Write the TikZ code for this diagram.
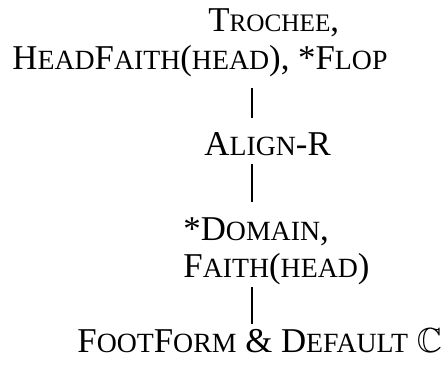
\documentclass[tikz,border=0pt]{standalone}
\usepackage{amssymb}
\usepackage{fontspec}
\setmainfont{Liberation Serif}
\usetikzlibrary{calc}
% faked small caps: full capital, then smaller capitals
\newcommand\fsc[2]{#1{\fontsize{13.9}{16}\selectfont #2}}
\newcommand\fscs[2]{#1{\fontsize{12.6}{15}\selectfont #2}}

\begin{document}
\begin{tikzpicture}[x=1pt, y=1pt,
  font=\fontsize{17.4}{20}\selectfont,
  cons/.style={inner sep=0pt, anchor=base west},
  link/.style={line width=0.75pt}]
\useasboundingbox (0,0) rectangle (222,182.5);
\coordinate (spine) at (126,0);
% ranking, highest first
\node[cons] (tro) at (104,166.5) {\fscs{T}{ROCHEE},};
\node[cons] (hf)  at (6,147.5)   {\fsc{H}{EAD}\fsc{F}{AITH}({\fontsize{13.9}{16}\selectfont HEAD}), *\fsc{F}{LOP}};
\node[cons] (al)  at (102,105)   {\fsc{A}{LIGN}-R};
\node[cons] (dom) at (91.5,62.5) {*\fsc{D}{OMAIN},};
\node[cons] (fh)  at (91.5,44)   {\fsc{F}{AITH}({\fontsize{13.9}{16}\selectfont HEAD})};
\node[cons] (ff)  at (38.5,6.5)  {\fsc{F}{OOT}\fsc{F}{ORM} \& \fsc{D}{EFAULT} $\mathbb{C}$};
\draw[link, shorten <=5.2pt, shorten >=7pt] (hf.south -| spine) -- (al.north -| spine);
\draw[link, shorten <=4pt, shorten >=7.5pt] (al.south -| spine) -- (dom.north -| spine);
\draw[link, shorten <=1.2pt, shorten >=1.8pt] (fh.south -| spine) -- (ff.north -| spine);
\end{tikzpicture}
\end{document}
